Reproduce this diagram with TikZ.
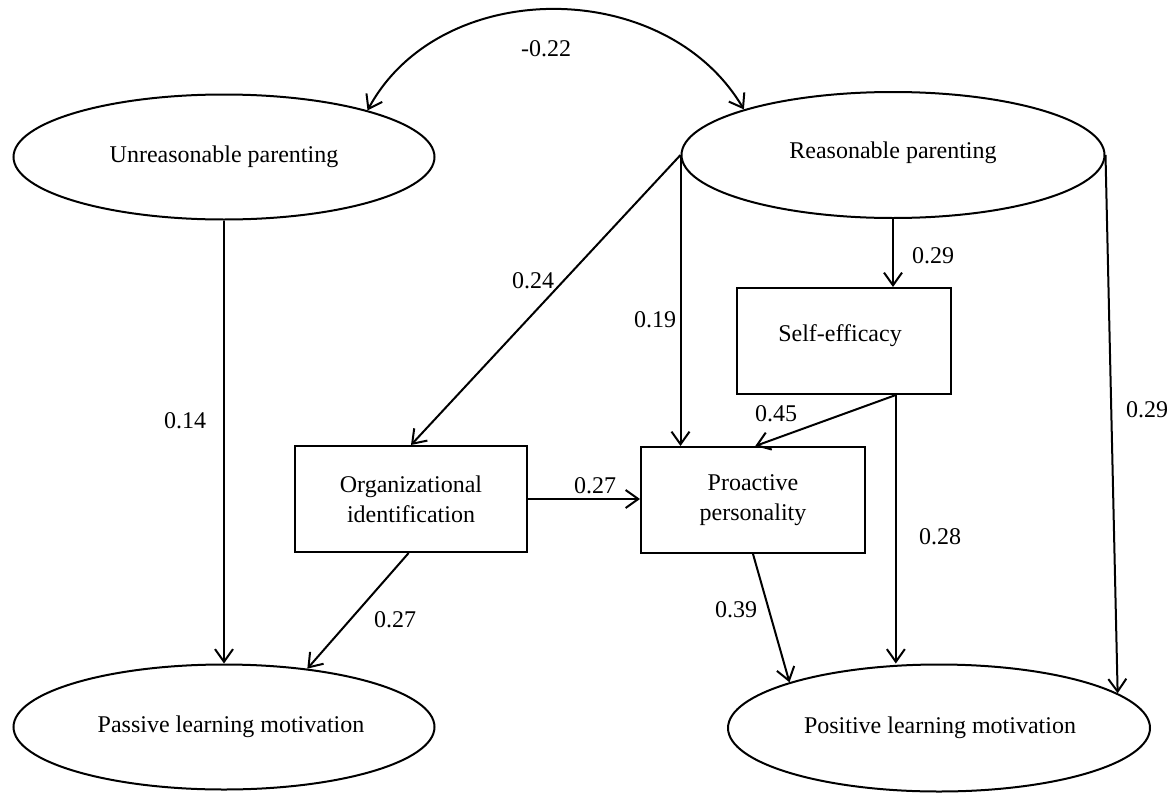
\documentclass[tikz,border=0pt]{standalone}
\usepackage{fontspec}
\setmainfont{Liberation Serif}
\usetikzlibrary{shapes.geometric,arrows.meta,calc}
\begin{document}
\begin{tikzpicture}[x=0.75pt,y=-0.75pt,
  every node/.style={font=\fontsize{18}{22.5}\selectfont},
  oval/.style={draw,ellipse,line width=1.5pt,inner sep=0pt},
  box/.style={draw,rectangle,line width=1.5pt,inner sep=0pt,align=center},
  arr/.style={line width=1.5pt,-{Straight Barb[length=9.5pt,width=13.5pt,line width=1.5pt]}},
  darr/.style={line width=1.5pt,{Straight Barb[length=9.5pt,width=13.5pt,line width=1.5pt]}-{Straight Barb[length=9.5pt,width=13.5pt,line width=1.5pt]}},
  lab/.style={inner sep=0pt}]
\useasboundingbox[fill=white] (0,0) rectangle (1174,796);
% nodes
\node[oval,minimum width=315.75pt,minimum height=93.75pt] (U) at (224,157) {};
\node at (224,157) {Unreasonable parenting};
\node[oval,minimum width=317.25pt,minimum height=94.5pt] (R) at (893,155) {};
\node at (893,153) {Reasonable parenting};
\node[oval,minimum width=315.75pt,minimum height=93.75pt] (PA) at (224,727) {};
\node at (231,727) {Passive learning motivation};
\node[oval,minimum width=316.5pt,minimum height=95.25pt] (PL) at (939,728) {};
\node at (940,728) {Positive learning motivation};
\node[box,minimum width=160.5pt,minimum height=79.5pt] (S) at (844,341) {};
\node at (840,336) {Self-efficacy};
\node[box,minimum width=174pt,minimum height=79.5pt] (O) at (411,499) {Organizational\\identification};
\node[box,minimum width=168pt,minimum height=79.5pt] (PP) at (753,500) {Proactive\\personality};
% connectors
\draw[darr] (U.18) .. controls (440,-24) and (665,-24) .. (R.163);
\draw[arr] (U.south) -- (PA.north);
\draw[arr] ($(O.south west)!0.49!(O.south east)$) -- (PA.35.6);
\draw[arr] (R.west) -- (O.north);
\draw[arr] (R.west) -- (R.west |- PP.north);
\draw[arr] (R.south) -- (R.south |- S.north);
\coordinate (s1) at ($(S.south west)!0.74!(S.south east)$);
\draw[arr] (s1) -- ($(PP.north west)!0.51!(PP.north east)$);
\draw[arr] (s1) -- (s1 |- PL.north);
\draw[arr] (R.east) -- (PL.11.8);
\draw[arr] (O.east) -- (O.east -| PP.west);
\draw[arr] (PP.south) -- (PL.163.2);
% labels
\node[lab] (l1) at (546,49) {-0.22};
\node[lab] (l2) at (933,256) {0.29};
\node[lab] (l3) at (533,281) {0.24};
\node[lab] (l4) at (655,320) {0.19};
\node[lab] (l5) at (776,414) {0.45};
\node[lab] (l6) at (185,421) {0.14};
\node[lab] (l7) at (1147,410) {0.29};
\node[lab] (l8) at (595,486) {0.27};
\node[lab] (l9) at (395,620) {0.27};
\node[lab] (l10) at (736,610) {0.39};
\node[lab] (l11) at (940,537) {0.28};
\end{tikzpicture}
\end{document}
